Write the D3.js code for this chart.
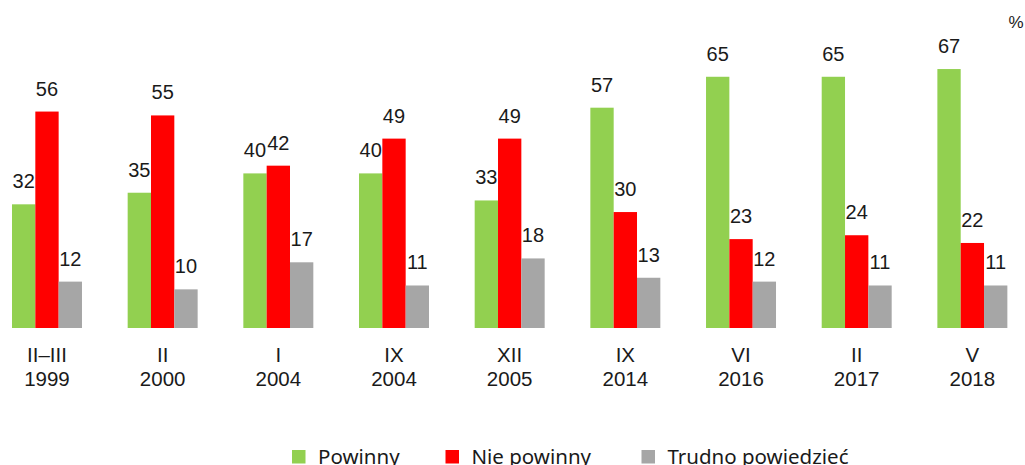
<!DOCTYPE html>
<html>
<head>
<meta charset="utf-8">
<script src="https://cdn.jsdelivr.net/npm/d3@7"></script>
<style>
    html, body { margin: 0; padding: 0; background: #fff; overflow: hidden; }
</style>
</head>
<body>
<svg id="chart" width="1025" height="465"></svg>
<script>
    'use strict';

    var periods = [['II–III', '1999'], ['II', '2000'], ['I', '2004'], ['IX', '2004'], ['XII', '2005'],
        ['IX', '2014'], ['VI', '2016'], ['II', '2017'], ['V', '2018']];
    var seriesNames = ['Powinny', 'Nie powinny', 'Trudno powiedzieć'];
    var powinny = [32, 35, 40, 40, 33, 57, 65, 65, 67];
    var niePowinny = [56, 55, 42, 49, 49, 30, 23, 24, 22];
    var trudno = [12, 10, 17, 11, 18, 13, 12, 11, 11];
    var colors = ['#92D050', '#FF0000', '#A6A6A6'];

    var seriesValues = [powinny, niePowinny, trudno];
    var baseline = 328;

    var svg = d3.select('#chart');

    var x0 = d3.scaleBand()
        .domain(d3.range(periods.length))
        .range([-10.85, 1030.2])
        .paddingInner(0.395)
        .paddingOuter(0.1975);

    var x1 = d3.scaleBand()
        .domain(d3.range(seriesNames.length))
        .range([0, x0.bandwidth()]);

    var y = d3.scaleLinear()
        .domain([0, 100])
        .range([baseline, baseline - 386.5]);

    var groups = svg.selectAll('.group')
        .data(periods)
        .enter().append('g')
        .attr('class', 'group')
        .attr('transform', function (d, i) {
            return 'translate(' + x0(i) + ',0)';
        });

    groups.each(function (p, i) {
        var g = d3.select(this);
        seriesValues.forEach(function (vals, s) {
            var v = vals[i];
            g.append('rect')
                .attr('x', x1(s))
                .attr('y', y(v))
                .attr('width', x1.bandwidth())
                .attr('height', baseline - y(v))
                .attr('fill', colors[s]);
            g.append('text')
                .attr('x', x1(s) + x1.bandwidth() / 2)
                .attr('y', y(v) - 16)
                .attr('text-anchor', 'middle')
                .attr('font-family', 'Liberation Sans, Arial, sans-serif')
                .attr('font-size', '20px')
                .attr('fill', '#1a1a1a')
                .text(v);
        });

        var lab = g.append('text')
            .attr('text-anchor', 'middle')
            .attr('font-family', 'Liberation Sans, Arial, sans-serif')
            .attr('font-size', '20.5px')
            .attr('fill', '#1a1a1a');
        lab.append('tspan').attr('x', x0.bandwidth() / 2).attr('y', 361.5).text(p[0]);
        lab.append('tspan').attr('x', x0.bandwidth() / 2).attr('y', 386).text(p[1]);
    });

    svg.append('text')
        .attr('x', 1016)
        .attr('y', 28)
        .attr('text-anchor', 'middle')
        .attr('font-family', 'Liberation Sans, Arial, sans-serif')
        .attr('font-size', '17px')
        .attr('fill', '#1a1a1a')
        .text('%');

    // legend (cut off at the bottom edge, as in the original)
    var legendX = [292, 445.5, 641.5];
    var legend = svg.selectAll('.legend')
        .data(seriesNames)
        .enter().append('g')
        .attr('class', 'legend')
        .attr('transform', function (d, i) {
            return 'translate(' + legendX[i] + ',450)';
        });

    legend.append('rect')
        .attr('width', 13.5)
        .attr('height', 13.5)
        .attr('fill', function (d, i) { return colors[i]; });

    legend.append('text')
        .attr('x', 26)
        .attr('y', 14)
        .attr('font-family', 'Noto Sans, Open Sans, sans-serif')
        .attr('font-size', '20.5px')
        .attr('fill', '#1a1a1a')
        .text(function (d) { return d; });
</script>
</body>
</html>
